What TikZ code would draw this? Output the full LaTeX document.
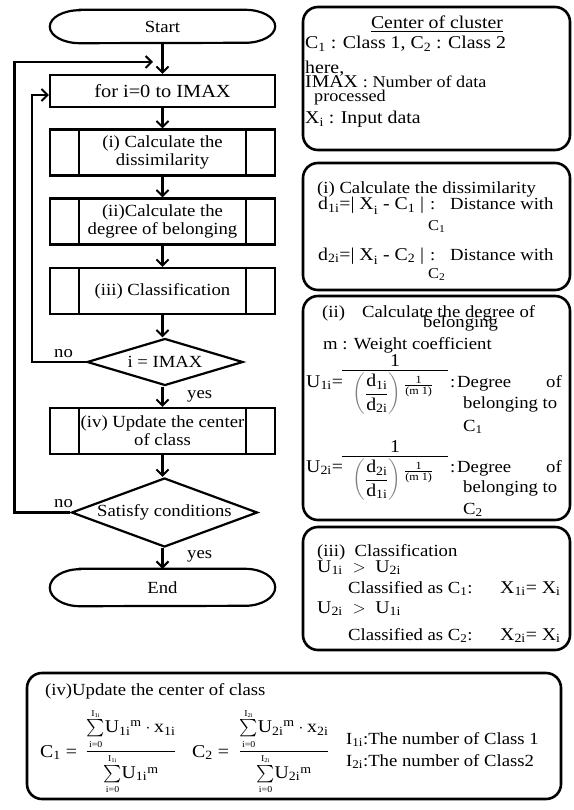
\documentclass[tikz,border=0pt]{standalone}
\usepackage{fontspec}
\setmainfont[FakeStretch=1.1]{Liberation Serif}
\usepackage{amsmath}
\usetikzlibrary{arrows.meta,shapes.geometric}
\newcommand{\tx}[1]{\text{#1}}
\newcommand{\ex}[1]{\mbox{\fontsize{11}{12}\selectfont #1}}
\begin{document}
\begin{tikzpicture}[x=1pt,y=-1pt,
  ft/.style={font=\fontsize{17}{18}\selectfont},
  fb/.style={font=\fontsize{18}{19}\selectfont},
  fs/.style={font=\fontsize{15}{16}\selectfont},
  lw/.style={line width=2.2pt},
  arr/.style={lw,-{Straight Barb[length=6pt,width=12pt,line width=2pt]}},
  proc/.style={draw,lw,minimum width=225pt,minimum height=32pt,inner sep=0pt,ft,align=center},
  subproc/.style={proc,minimum height=46pt,path picture={\draw[lw] ([xshift=29pt]path picture bounding box.north west) -- ([xshift=29pt]path picture bounding box.south west) ([xshift=-29pt]path picture bounding box.north east) -- ([xshift=-29pt]path picture bounding box.south east);}},
  dec/.style={draw,diamond,lw,inner sep=0pt,ft},
  term/.style={minimum width=225pt,inner sep=0pt,ft},
  rbox/.style={draw,line width=2.6pt,rounded corners=15pt,inner sep=0pt},
  lbl/.style={ft,anchor=base west,inner sep=0pt},
]
\useasboundingbox (0,0) rectangle (573,810);
% ---------------- flowchart ----------------
\node[term,minimum height=33pt] (start) at (162.5,26.5) {Start};
\draw[lw] ([xshift=30pt]start.north west) -- ([xshift=-30pt]start.north east)
  arc[start angle=90,end angle=-90,x radius=30pt,y radius=16.5pt]
  -- ([xshift=30pt]start.south west)
  arc[start angle=270,end angle=90,x radius=30pt,y radius=16.5pt] -- cycle;
\node[proc,font=\fontsize{18.5}{19}\selectfont] (for) at (162.5,91) {for i=0 to IMAX};
\node[subproc] (p1) at (162.5,152.5) {(i) Calculate the\\dissimilarity};
\node[subproc] (p2) at (162.5,221.5) {(ii)Calculate the\\degree of belonging};
\node[subproc] (p3) at (162.5,291) {(iii) Classification};
\node[dec,minimum width=156pt,minimum height=47pt,aspect=3.3] (d1) at (165,362) {i = IMAX};
\node[subproc] (p4) at (162.5,431) {(iv) Update the center\\of class};
\node[dec,minimum width=186pt,minimum height=69pt,aspect=2.7] (d2) at (164.5,512.5) {Satisfy conditions};
\node[term,minimum height=37pt] (end) at (162.5,587.5) {End};
\draw[lw] ([xshift=30pt]end.north west) -- ([xshift=-30pt]end.north east)
  arc[start angle=90,end angle=-90,x radius=30pt,y radius=18.5pt]
  -- ([xshift=30pt]end.south west)
  arc[start angle=270,end angle=90,x radius=30pt,y radius=18.5pt] -- cycle;
\draw[arr] (start) -- (for);
\draw[arr] (for) -- (p1);
\draw[arr] (p1) -- (p2);
\draw[arr] (p2) -- (p3);
\draw[arr] (p3) -- (d1.north -| p3);
\draw[arr] (d1.south -| p3) -- (p4);
\draw[arr] (p4) -- (d2.north -| p4);
\draw[arr] (d2.south -| p4) -- (end);
\coordinate (oc) at (14.5,62);
\coordinate (oj) at (153,62);
\draw[arr] (d2.west) -| (oc) -- (oj);
\coordinate (ic) at (32,95);
\draw[arr] (d1.west) -| (ic) -- (for.west |- ic);
\node[lbl] (no1) at (54,357) {no};
\node[lbl] (yes1) at (187,398) {yes};
\node[lbl] (no2) at (54,507) {no};
\node[lbl] (yes2) at (187,558) {yes};
% ---------------- box 1 ----------------
\node[rbox,minimum width=267pt,minimum height=143pt] (b1) at (436.5,78.5) {};
\node[lbl,fb,anchor=base] (b1t1) at (437,29) {\underline{Center of cluster}};
\node[lbl,fb] (b1t2) at (305,49) {C\textsubscript{1} : Class 1, C\textsubscript{2} : Class 2};
\node[lbl,fb] (b1t3) at (305,74) {here,};
\node[lbl,fb] (b1t4) at (305,88) {IMAX {\fontsize{16.5}{17}\selectfont : Number of data}};
\node[lbl,font=\fontsize{16.5}{17}\selectfont] (b1t5) at (314,102) {processed};
\node[lbl,fb] (b1t6) at (305,124) {X\textsubscript{i} : Input data};
% ---------------- box 2 ----------------
\node[rbox,minimum width=267pt,minimum height=127pt] (b2) at (436.5,226.5) {};
\node[lbl] (b2t1) at (317,194) {(i) Calculate the dissimilarity};
\node[lbl,fb] (b2t2) at (318,210) {$\tx{d}_{\tx{1i}}\tx{=| X}_{\tx{i}}\tx{ - C}_{\tx{1}}\tx{ |}$};
\node[lbl] (b2t3) at (430,210) {:};
\node[lbl] (b2t4) at (450,210) {Distance with};
\node[lbl,fs] (b2t5) at (428,230) {C\textsubscript{1}};
\node[lbl,fb] (b2t6) at (318,260) {$\tx{d}_{\tx{2i}}\tx{=| X}_{\tx{i}}\tx{ - C}_{\tx{2}}\tx{ |}$};
\node[lbl] (b2t7) at (430,260) {:};
\node[lbl] (b2t8) at (450,260) {Distance with};
\node[lbl,fs] (b2t9) at (428,278) {C\textsubscript{2}};
% ---------------- box 3 ----------------
\node[rbox,minimum width=267pt,minimum height=224pt] (b3) at (436.5,408) {};
\node[lbl] (b3t1) at (322,317) {(ii)};
\node[lbl] (b3t2) at (362,317) {Calculate the degree of};
\node[lbl] (b3t3) at (423,327) {belonging};
\node[lbl] (b3t4) at (323,349) {m : Weight coefficient};
% U1i
\node[lbl,fb] (u1) at (306,387) {$\tx{U}_{\tx{1i}}\tx{=}$};
\node[lbl,fb,anchor=base] (u1n) at (395,366) {1};
\coordinate (u1a) at (342,370);
\coordinate (u1b) at (448,370);
\draw[line width=1pt] (u1a) -- (u1b);
\node[fb,anchor=north,inner sep=0pt] (u1d) at (393,373) {$\color{gray}\left(\color{black}\dfrac{\tx{d}_{\tx{1i}}}{\tx{d}_{\tx{2i}}}\color{gray}\right)^{\color{black}\frac{\ex{1}}{\ex{(m 1)}}}$};
\node[lbl] (u1c) at (450,387) {:};
\node[lbl] (u1e) at (457,387) {Degree};
\node[ft,anchor=base east,inner sep=0pt] (u1f) at (562,387) {of};
\node[lbl] (u1g) at (463,408) {belonging to};
\node[lbl] (u1h) at (463,431) {C\textsubscript{1}};
% U2i
\node[lbl,fb] (u2) at (306,472) {$\tx{U}_{\tx{2i}}\tx{=}$};
\node[lbl,fb,anchor=base] (u2n) at (395,452) {1};
\coordinate (u2a) at (342,456);
\coordinate (u2b) at (448,456);
\draw[line width=1pt] (u2a) -- (u2b);
\node[fb,anchor=north,inner sep=0pt] (u2d) at (393,459) {$\color{gray}\left(\color{black}\dfrac{\tx{d}_{\tx{2i}}}{\tx{d}_{\tx{1i}}}\color{gray}\right)^{\color{black}\frac{\ex{1}}{\ex{(m 1)}}}$};
\node[lbl] (u2c) at (450,472) {:};
\node[lbl] (u2e) at (457,472) {Degree};
\node[ft,anchor=base east,inner sep=0pt] (u2f) at (562,472) {of};
\node[lbl] (u2g) at (463,492) {belonging to};
\node[lbl] (u2h) at (463,514) {C\textsubscript{2}};
% ---------------- box 4 ----------------
\node[rbox,minimum width=267pt,minimum height=123pt] (b4) at (436.5,588.5) {};
\node[lbl] (b4t1) at (317,556) {(iii)\ \ Classification};
\node[lbl,fb] (b4t2) at (317,572) {$\tx{U}_{\tx{1i}}\ >\ \tx{U}_{\tx{2i}}$};
\node[lbl] (b4t3) at (348,593) {Classified as C\textsubscript{1}:};
\node[lbl,fb] (b4t4) at (500,593) {$\tx{X}_{\tx{1i}}\tx{= X}_{\tx{i}}$};
\node[lbl,fb] (b4t5) at (317,613) {$\tx{U}_{\tx{2i}}\ >\ \tx{U}_{\tx{1i}}$};
\node[lbl] (b4t6) at (348,640) {Classified as C\textsubscript{2}:};
\node[lbl,fb] (b4t7) at (500,640) {$\tx{X}_{\tx{2i}}\tx{= X}_{\tx{i}}$};
% ---------------- box 5 ----------------
\node[rbox,minimum width=534pt,minimum height=126pt] (b5) at (294,736) {};
\node[lbl] (b5t1) at (45,695) {(iv)Update the center of class};
\node[lbl,fb] (b5t2) at (40,757) {$\tx{C}_{\tx{1}}\ \tx{=}$};
\node[fb,anchor=base,inner sep=0pt] (b5f1) at (131,756) {$\dfrac{{\textstyle\sum\limits_{\scriptscriptstyle\tx{i=0}}^{\scriptscriptstyle\tx{I\textsubscript{1i}}}}\tx{U}_{\tx{1i}}{}^{\tx{m}}\cdot\tx{x}_{\tx{1i}}}{{\textstyle\sum\limits_{\scriptscriptstyle\tx{i=0}}^{\scriptscriptstyle\tx{I\textsubscript{1i}}}}\tx{U}_{\tx{1i}}{}^{\tx{m}}}$};
\node[lbl,fb] (b5t3) at (192,757) {$\tx{C}_{\tx{2}}\ \tx{=}$};
\node[fb,anchor=base,inner sep=0pt] (b5f2) at (284,756) {$\dfrac{{\textstyle\sum\limits_{\scriptscriptstyle\tx{i=0}}^{\scriptscriptstyle\tx{I\textsubscript{2i}}}}\tx{U}_{\tx{2i}}{}^{\tx{m}}\cdot\tx{x}_{\tx{2i}}}{{\textstyle\sum\limits_{\scriptscriptstyle\tx{i=0}}^{\scriptscriptstyle\tx{I\textsubscript{2i}}}}\tx{U}_{\tx{2i}}{}^{\tx{m}}}$};
\node[lbl] (b5t4) at (346,744) {I\textsubscript{1i}:The number of Class 1};
\node[lbl] (b5t5) at (346,766) {I\textsubscript{2i}:The number of Class2};
\end{tikzpicture}
\end{document}
